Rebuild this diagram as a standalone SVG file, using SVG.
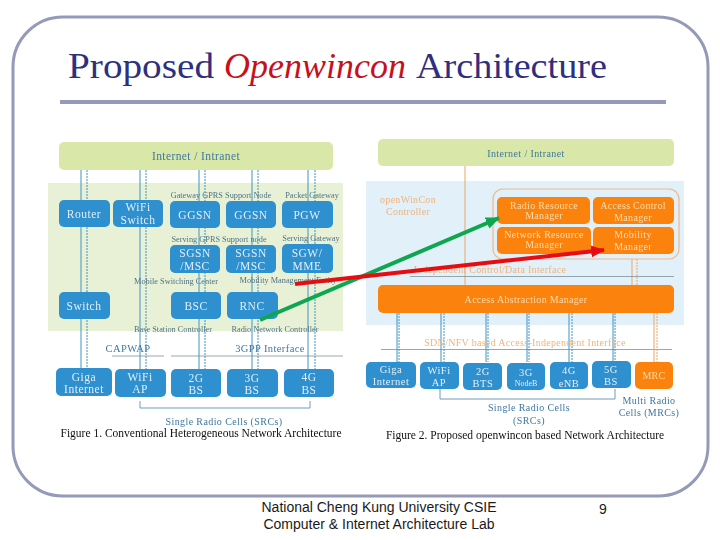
<svg xmlns="http://www.w3.org/2000/svg" width="720" height="540" viewBox="0 0 720 540">
<style>
text{font-family:"Liberation Serif","DejaVu Serif",serif;text-anchor:middle}
.n rect{rx:5px;ry:5px}
.b rect{fill:#2e90cf}.o rect{fill:#fb8309}
.n text{fill:#e3eef5;font-size:11.5px;letter-spacing:.5px}
.o text{fill:#fbdcb4;font-size:10px;letter-spacing:.3px}
.l{fill:#4f7385;font-size:8.300px}
.t{fill:#3f78a0;font-size:10px;letter-spacing:.4px}
.a{fill:#f0b479;font-size:10px;letter-spacing:.3px}
.c{fill:#111;font-size:11.500px}
.v{stroke:#3f94c4;stroke-width:1;fill:none}
.d{stroke:#3f94c4;stroke-width:1;stroke-dasharray:2 1;fill:none}
.vo{stroke:#e9a76b;stroke-width:1;fill:none}
.do{stroke:#e9a76b;stroke-width:1;stroke-dasharray:2 1;fill:none}
.r{stroke:#7f909f;stroke-width:.8;fill:none}
.h1{font-size:36px;fill:#2f2f80}
.f{font-family:"Liberation Sans",Arial,sans-serif;font-size:14px;fill:#1a1a1a}
</style>
<defs>
<filter id="s" x="-2%" y="-2%" width="104%" height="104%"><feGaussianBlur stdDeviation="0.4"/></filter>
<marker id="ga" markerUnits="userSpaceOnUse" markerWidth="14" markerHeight="12" refX="13" refY="6" orient="auto"><path d="M0 0L14 6L0 12Z" fill="#0fa650"/></marker>
<marker id="ra" markerUnits="userSpaceOnUse" markerWidth="14" markerHeight="12" refX="13" refY="6" orient="auto"><path d="M0 0L14 6L0 12Z" fill="#e60d12"/></marker>
</defs>
<rect width="720" height="540" fill="#fff"/>
<rect x="13" y="17" width="695" height="479" rx="50" ry="50" fill="none" stroke="#949ab8" stroke-width="3"/>
<text id="title" class="h1" y="78" style="text-anchor:start"><tspan x="68" textLength="146" lengthAdjust="spacingAndGlyphs">Proposed</tspan> <tspan x="224" fill="#c8101c" font-style="italic" textLength="182" lengthAdjust="spacingAndGlyphs">Openwincon</tspan> <tspan x="416" textLength="191" lengthAdjust="spacingAndGlyphs">Architecture</tspan></text>
<rect x="60" y="100" width="606" height="4" fill="#949ab8"/>
<g id="figures" filter="url(#s)">
<rect x="48" y="183" width="295" height="148" fill="#e8f1d6"/>
<rect x="366" y="181" width="318" height="144" fill="#e2f0fa"/>
<rect x="59" y="142" width="274" height="28" rx="5" fill="#d9e8a8"/>
<rect x="378" y="139" width="296" height="27" rx="5" fill="#d9e8a8"/>
<g id="connectors">
<path class="v" d="M81 170V368M140 170V369M199 170V369M252 170V369M308 170V369"/>
<path class="d" d="M87 170V368M146 170V369M205 170V369M258 170V369M315 170V369"/>
<path class="r" d="M112 356H164M171 356H343"/>
<path d="M140 401V408H310V401" fill="none" stroke="#6f9cb8" stroke-width="1"/>
<path class="vo" d="M465 166V285M632 259V285"/>
<path class="do" d="M637 259V285"/>
<path class="r" d="M410 276.500H674M381 349.500H672"/>
<path class="v" d="M397 313V362M441 313V362M486 313V362M527 313V362M569 313V362M613 313V362"/>
<path class="d" d="M399 313V362M444 313V362M488 313V362M529 313V362M572 313V362M615 313V362"/>
<path class="vo" d="M654 313V362"/>
<path class="do" d="M657 313V362"/>
<path d="M440 389V399H615V389" fill="none" stroke="#6f9cb8" stroke-width="1"/>
</g>
<g id="left-labels">
<text class="t" x="196" y="160" style="font-size:11.500px">Internet / Intranet</text>
<text class="l" x="221" y="198">Gateway GPRS Support Node</text>
<text class="l" x="312" y="198">Packet Gateway</text>
<text class="l" x="219" y="242">Serving GPRS Support node</text>
<text class="l" x="311" y="241">Serving Gateway</text>
<text class="l" x="176" y="284">Mobile Switching Center</text>
<text class="l" x="288" y="283">Mobility Management Entity</text>
<text class="l" x="173" y="332">Base Station Controller</text>
<text class="l" x="275" y="332">Radio Network Controller</text>
<text class="t" x="128" y="352" style="font-size:10.500px">CAPWAP</text>
<text class="t" x="270" y="352" style="font-size:10.500px">3GPP Interface</text>
<text class="t" x="224" y="425">Single Radio Cells (SRCs)</text>
<text class="c" x="201" y="437">Figure 1. Conventional Heterogeneous Network Architecture</text>
</g>
<g id="right-labels">
<text class="t" x="526" y="157">Internet / Intranet</text>
<text class="a" x="408" y="203">openWinCon</text>
<text class="a" x="408" y="215">Controller</text>
<text class="a" x="490" y="273">Independent Control/Data Interface</text>
<text class="a" x="525" y="346">SDN/NFV based Access-Independent Interface</text>
<text class="t" x="529" y="411">Single Radio Cells</text>
<text class="t" x="529" y="424">(SRCs)</text>
<text class="t" x="649" y="404">Multi Radio</text>
<text class="t" x="649" y="416">Cells (MRCs)</text>
<text class="c" x="525" y="439">Figure 2. Proposed openwincon based Network Architecture</text>
</g>
<rect x="493" y="189" width="186" height="70" rx="10" fill="none" stroke="#efb888" stroke-width="1.200"/>
<g id="n-router" class="n b"><rect x="59" y="200" width="51" height="27"/><text x="84" y="218">Router</text></g>
<g id="n-wifi-switch" class="n b"><rect x="113" y="200" width="50" height="27"/><text x="138" y="211">WiFi</text><text x="138" y="224">Switch</text></g>
<g id="n-ggsn1" class="n b"><rect x="170" y="201" width="50" height="27"/><text x="195" y="219">GGSN</text></g>
<g id="n-ggsn2" class="n b"><rect x="226" y="201" width="50" height="27"/><text x="251" y="219">GGSN</text></g>
<g id="n-pgw" class="n b"><rect x="282" y="201" width="51" height="27"/><text x="307" y="219">PGW</text></g>
<g id="n-sgsn1" class="n b"><rect x="170" y="245" width="50" height="28"/><text x="195" y="257">SGSN</text><text x="195" y="270">/MSC</text></g>
<g id="n-sgsn2" class="n b"><rect x="226" y="245" width="50" height="28"/><text x="251" y="257">SGSN</text><text x="251" y="270">/MSC</text></g>
<g id="n-sgw" class="n b"><rect x="282" y="244" width="51" height="29"/><text x="307" y="257">SGW/</text><text x="307" y="270">MME</text></g>
<g id="n-switch" class="n b"><rect x="59" y="292" width="51" height="27"/><text x="84" y="310">Switch</text></g>
<g id="n-bsc" class="n b"><rect x="171" y="292" width="50" height="27"/><text x="196" y="310">BSC</text></g>
<g id="n-rnc" class="n b"><rect x="227" y="292" width="51" height="27"/><text x="252" y="310">RNC</text></g>
<g id="n-giga1" class="n b"><rect x="56" y="368" width="56" height="28"/><text x="84" y="381">Giga</text><text x="84" y="393">Internet</text></g>
<g id="n-wifiap1" class="n b"><rect x="115" y="369" width="51" height="28"/><text x="140" y="381">WiFi</text><text x="140" y="393">AP</text></g>
<g id="n-2gbs" class="n b"><rect x="171" y="369" width="50" height="28"/><text x="196" y="382">2G</text><text x="196" y="394">BS</text></g>
<g id="n-3gbs" class="n b"><rect x="227" y="369" width="51" height="28"/><text x="252" y="382">3G</text><text x="252" y="394">BS</text></g>
<g id="n-4gbs" class="n b"><rect x="284" y="369" width="50" height="28"/><text x="309" y="381">4G</text><text x="309" y="394">BS</text></g>
<g id="n-rrm" class="n o"><rect x="497" y="197" width="93" height="27"/><text x="544" y="209">Radio Resource</text><text x="544" y="219">Manager</text></g>
<g id="n-acm" class="n o"><rect x="593" y="197" width="81" height="27"/><text x="633" y="209">Access Control</text><text x="633" y="221">Manager</text></g>
<g id="n-nrm" class="n o"><rect x="497" y="227" width="94" height="27"/><text x="544" y="238">Network Resource</text><text x="544" y="248">Manager</text></g>
<g id="n-mm" class="n o"><rect x="593" y="227" width="81" height="27"/><text x="633" y="238">Mobility</text><text x="633" y="250">Manager</text></g>
<g id="n-aam" class="n o"><rect x="378" y="285" width="296" height="28"/><text x="526" y="303">Access Abstraction Manager</text></g>
<g id="n-giga2" class="n b"><rect x="366" y="362" width="50" height="26"/><text x="391" y="373" style="font-size:10.500px">Giga</text><text x="391" y="385" style="font-size:10.500px">Internet</text></g>
<g id="n-wifiap2" class="n b"><rect x="420" y="362" width="39" height="27"/><text x="439" y="374" style="font-size:10.500px">WiFi</text><text x="439" y="386" style="font-size:10.500px">AP</text></g>
<g id="n-2gbts" class="n b"><rect x="463" y="363" width="39" height="27"/><text x="483" y="375" style="font-size:10.500px">2G</text><text x="483" y="387" style="font-size:10.500px">BTS</text></g>
<g id="n-3gnb" class="n b"><rect x="507" y="363" width="38" height="27"/><text x="526" y="376" style="font-size:10.500px">3G</text><text x="526" y="386" style="font-size:8px;letter-spacing:0">NodeB</text></g>
<g id="n-4genb" class="n b"><rect x="550" y="362" width="38" height="27"/><text x="569" y="374" style="font-size:10.500px">4G</text><text x="569" y="387" style="font-size:10.500px">eNB</text></g>
<g id="n-5gbs" class="n b"><rect x="592" y="361" width="39" height="27"/><text x="611" y="373" style="font-size:10.500px">5G</text><text x="611" y="385" style="font-size:10.500px">BS</text></g>
<g id="n-mrc" class="n o"><rect x="635" y="362" width="38" height="27"/><text x="654" y="379">MRC</text></g>
</g>
<g id="arrows" fill="none" stroke-width="4">
<line x1="260" y1="320" x2="499" y2="218" stroke="#0fa650" marker-end="url(#ga)"/>
<line x1="295" y1="284" x2="604" y2="250" stroke="#e60d12" marker-end="url(#ra)"/>
</g>
<g id="footer">
<text class="f" x="379" y="512">National Cheng Kung University CSIE</text>
<text class="f" x="379" y="529">Computer &amp; Internet Architecture Lab</text>
<text class="f" x="603" y="514">9</text>
</g>
</svg>
